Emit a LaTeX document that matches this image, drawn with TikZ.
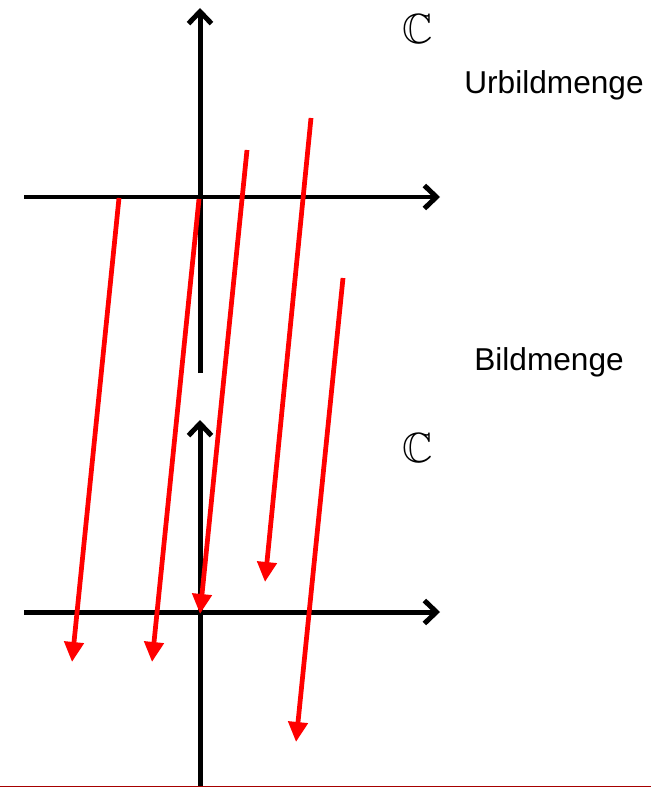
\documentclass[tikz,border=0pt]{standalone}
\usepackage{amsmath}
\usepackage{amssymb}
\usepackage{fontspec}
\setmainfont{Liberation Sans}
\usetikzlibrary{arrows.meta}

\begin{document}
\begin{tikzpicture}[
    x=0.02cm, y=-0.02cm,
    axis/.style={line width=0.1cm, -{Straight Barb[length=0.24cm, width=0.46cm]}},
    mapping/.style={red, line width=0.095cm, -{Triangle[length=0.4cm, width=0.38cm]}},
    setname/.style={font=\fontsize{18}{20}\selectfont, inner sep=0pt},
    plane/.style={font=\fontsize{24}{26}\selectfont, inner sep=0pt}
  ]
    \useasboundingbox (0,0) rectangle (651,787);
    % upper plane (Urbildmenge)
    \coordinate (uo) at (200,197);
    \draw[axis] (24,197) -- (440,197);
    \draw[axis] (200,373) -- (200,8);
    \node[plane] (cu) at (418,29) {$\mathbb{C}$};
    \node[setname] (urbild) at (554,85) {Urbildmenge};
    % lower plane (Bildmenge)
    \coordinate (lo) at (200,612);
    \draw[axis] (24,612) -- (440,612);
    \draw[axis] (200,790) -- (200,420);
    \node[plane] (cl) at (418,448) {$\mathbb{C}$};
    \node[setname] (bild) at (549,362) {Bildmenge};
    % mappings
    \draw[mapping] (119,198) -- (72,662);
    \draw[mapping] (199,199) -- (152,662);
    \draw[mapping] (247,150) -- (200,614);
    \draw[mapping] (311,118) -- (265,582);
    \draw[mapping] (343,278) -- (296,742);
    % bottom rule
    \draw[red!65!black, line width=0.5pt] (0,786) -- (651,786);
  \end{tikzpicture}
\end{document}
